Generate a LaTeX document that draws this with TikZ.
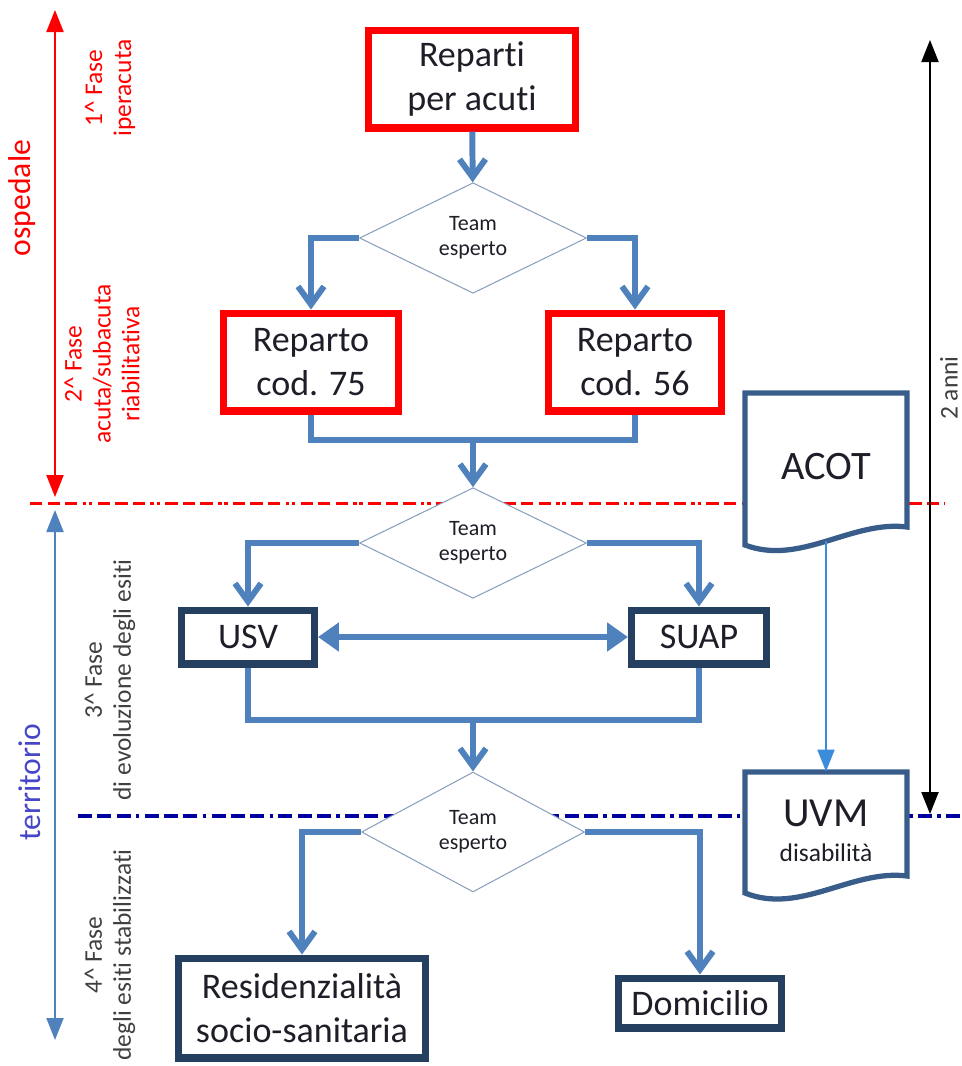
\documentclass[tikz,border=0pt]{standalone}
\usepackage{fontspec}
\setmainfont{Carlito}[Ligatures=NoCommon]
\usetikzlibrary{arrows.meta,shapes.geometric,positioning}
\definecolor{flowblue}{RGB}{79,129,189}
\definecolor{boxnavy}{RGB}{36,63,96}
\definecolor{docblue}{RGB}{56,93,138}
\definecolor{diagrey}{RGB}{140,160,190}
\definecolor{dashnavy}{RGB}{0,0,160}
\definecolor{terrblue}{RGB}{70,70,200}
\definecolor{linkblue}{RGB}{60,140,220}
\definecolor{txt}{RGB}{30,30,40}
\definecolor{phasetxt}{RGB}{64,64,64}

\begin{document}
\begin{tikzpicture}[x=0.02cm,y=-0.02cm,
  redbox/.style={draw=red,line width=4pt,fill=white,align=center,text=txt,font=\fontsize{20.5}{25}\selectfont},
  navybox/.style={draw=boxnavy,line width=4pt,fill=white,align=center,text=txt,font=\fontsize{20.5}{25}\selectfont},
  team/.style={diamond,draw=diagrey,line width=0.6pt,fill=white,inner sep=0pt,minimum width=4.54cm,minimum height=2.2cm,align=center,text=txt,font=\fontsize{12.5}{14}\selectfont},
  docnode/.style={inner sep=0pt,align=center,text=txt},
  docline/.style={draw=docblue,line width=3pt,fill=white},
  flow/.style={draw=flowblue,line width=3.4pt,-{Straight Barb[length=0.36cm,width=0.52cm]}},
  flowline/.style={draw=flowblue,line width=3.4pt},
  both/.style={draw=flowblue,line width=3pt,{Triangle[length=0.42cm,width=0.56cm]}-{Triangle[length=0.42cm,width=0.56cm]}},
  link/.style={draw=linkblue,line width=1pt,-{Triangle[length=0.44cm,width=0.34cm]}},
  span/.style={draw=#1,fill=#1,line width=1.2pt,{Triangle[length=0.44cm,width=0.34cm]}-{Triangle[length=0.44cm,width=0.34cm]}},
  phase/.style={rotate=90,align=center,font=\fontsize{14.5}{16.5}\selectfont},
  reddash/.style={draw=red,line width=1.7pt,dash pattern=on 7pt off 3pt on 7pt off 3pt on 7pt off 3pt on 2pt off 1.5pt on 2pt off 3pt},
  bluedash/.style={draw=dashnavy,line width=2.2pt,dash pattern=on 8pt off 3pt on 8pt off 3pt on 8pt off 3pt on 2pt off 3pt}
]
\useasboundingbox (0,0) rectangle (962,1066);
% phase borders
\draw[reddash] (30,503) -- (945,503);
\draw[bluedash] (78,816) -- (962,816);
% left spans
\coordinate (osp-top) at (55,10);
\coordinate (osp-bot) at (55,497);
\draw[span=red] (osp-top) -- (osp-bot);
\coordinate (ter-top) at (55,510);
\coordinate (ter-bot) at (55,1040);
\draw[span=flowblue] (ter-top) -- (ter-bot);
\node[rotate=90,text=red,font=\fontsize{18}{20}\selectfont] (ospedale) at (22,198) {ospedale};
\node[rotate=90,text=terrblue,font=\fontsize{18}{20}\selectfont] (territorio) at (30,782) {territorio};
\node[phase,text=red] (fase1) at (110,88) {1\textasciicircum{} Fase\\iperacuta};
\node[phase,text=red] (fase2) at (102,364) {2\textasciicircum{} Fase\\acuta/subacuta\\riabilitativa};
\node[phase,text=phasetxt] (fase3) at (110,680) {3\textasciicircum{} Fase\\di evoluzione degli esiti};
\node[phase,text=phasetxt] (fase4) at (110,955) {4\textasciicircum{} Fase\\degli esiti stabilizzati};
% two years
\coordinate (anni-top) at (930,40);
\coordinate (anni-bot) at (930,814);
\draw[span=black] (anni-top) -- (anni-bot);
\node[rotate=90,text=phasetxt,font=\fontsize{14.5}{17}\selectfont] (anni) at (949,388) {2 anni};

% hospital
\node[redbox,minimum width=4.16cm,minimum height=1.96cm] (reparti) at (472,79) {Reparti\\per acuti};
\node[team] (team1) at (473,238) {Team\\esperto};
\node[redbox,minimum width=3.5cm,minimum height=1.96cm] (cod75) at (311,362) {Reparto\\cod. 75};
\node[redbox,minimum width=3.46cm,minimum height=1.96cm] (cod56) at (635,362) {Reparto\\cod. 56};
\coordinate (join1) at (473,440);
\draw[flow] (reparti) -- (team1);
\draw[flow] (team1.west) -| (cod75.north);
\draw[flow] (team1.east) -| (cod56.north);
\draw[flowline] (cod75.south) |- (join1) -| (cod56.south);

% territory
\node[team] (team2) at (473,543) {Team\\esperto};
\draw[flow] (join1) -- (team2.north);
\node[navybox,minimum width=2.66cm,minimum height=1.08cm] (usv) at (248,637) {USV};
\node[navybox,minimum width=2.7cm,minimum height=1.08cm] (suap) at (699,637) {SUAP};
\coordinate (join2) at (473,720);
\draw[flow] (team2.west) -| (usv.north);
\draw[flow] (team2.east) -| (suap.north);
\draw[both] (usv) -- (suap);
\draw[flowline] (usv.south) |- (join2) -| (suap.south);
\node[team,minimum width=4.46cm,minimum height=2.4cm] (team3) at (473,832) {Team\\esperto};
\draw[flow] (join2) -- (team3.north);
\node[navybox,minimum width=4.96cm,minimum height=2cm] (resid) at (302,1008) {Residenzialità\\socio-sanitaria};
\node[navybox,minimum width=3.26cm,minimum height=1cm] (domic) at (700,1003) {Domicilio};
\draw[flow] (team3.west) -| (resid.north);
\draw[flow] (team3.east) -| (domic.north);

% documents
\draw[docline] (745,393) -- (907,393) -- (907,527) .. controls (852,520) and (800,566) .. (745,545) -- cycle;
\node[docnode,minimum width=3.24cm,minimum height=2.96cm,font=\fontsize{23}{27}\selectfont] (acot) at (826,467) {ACOT};
\draw[docline] (745,772) -- (907,772) -- (907,876) .. controls (852,869) and (800,915) .. (745,893) -- cycle;
\node[docnode,minimum width=3.24cm,minimum height=2.36cm,font=\fontsize{23.5}{27}\selectfont] (uvm) at (826,831) {UVM\\[-7pt]{\fontsize{14.5}{17}\selectfont disabilità}};
\draw[link] (acot) -- (uvm);
\end{tikzpicture}
\end{document}
